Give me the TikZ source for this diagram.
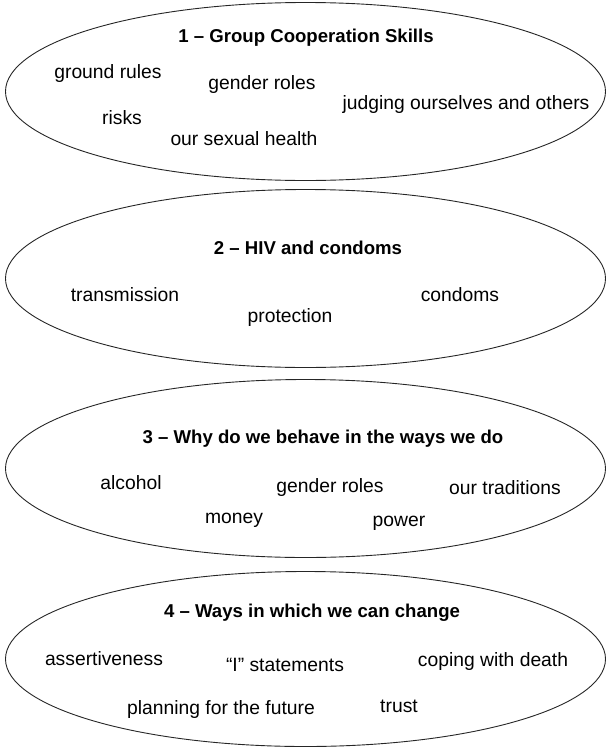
\documentclass[tikz,border=0pt]{standalone}
\usepackage{fontspec}
\setmainfont{Liberation Sans}
\usetikzlibrary{shapes.geometric}
\begin{document}
\begin{tikzpicture}[x=1pt,y=-1pt,
  topic/.style={draw=black!85, line width=0.9pt, ellipse, minimum width=600pt, minimum height=178pt, inner sep=0pt},
  head/.style={inner sep=0pt, font=\fontsize{18.6}{22}\selectfont\bfseries},
  item/.style={inner sep=0pt, font=\fontsize{19.3}{22}\selectfont}]
\useasboundingbox (0,0) rectangle (607,747);

% 1 - group cooperation skills
\node[topic] (e1) at (305.5,91.5) {};
\node[head] (t1) at (306,38) {1 -- Group Cooperation Skills};
\node[item] (a1) at (108,74) {ground rules};
\node[item] (a2) at (262,85) {gender roles};
\node[item] (a3) at (466,105) {judging ourselves and others};
\node[item] (a4) at (122,118) {risks};
\node[item] (a5) at (244,139) {our sexual health};

% 2 - HIV and condoms
\node[topic] (e2) at (305.5,278.5) {};
\node[head] (t2) at (308,248) {2 -- HIV and condoms};
\node[item] (b1) at (125,295) {transmission};
\node[item] (b2) at (460,295) {condoms};
\node[item] (b3) at (290,318) {protection};

% 3 - why do we behave in the ways we do
\node[topic] (e3) at (305.5,468.5) {};
\node[head] (t3) at (323,439) {3 -- Why do we behave in the ways we do};
\node[item] (c1) at (131,483) {alcohol};
\node[item] (c2) at (330,488) {gender roles};
\node[item] (c3) at (505,488) {our traditions};
\node[item] (c4) at (234,520) {money};
\node[item] (c5) at (399,523) {power};

% 4 - ways in which we can change
\node[topic, minimum height=175pt] (e4) at (305.5,659) {};
\node[head] (t4) at (312,613) {4 -- Ways in which we can change};
\node[item] (d1) at (104,659) {assertiveness};
\node[item] (d2) at (285,665) {``I'' statements};
\node[item] (d3) at (493,662) {coping with death};
\node[item] (d4) at (221,710) {planning for the future};
\node[item] (d5) at (399,706) {trust};
\end{tikzpicture}
\end{document}
